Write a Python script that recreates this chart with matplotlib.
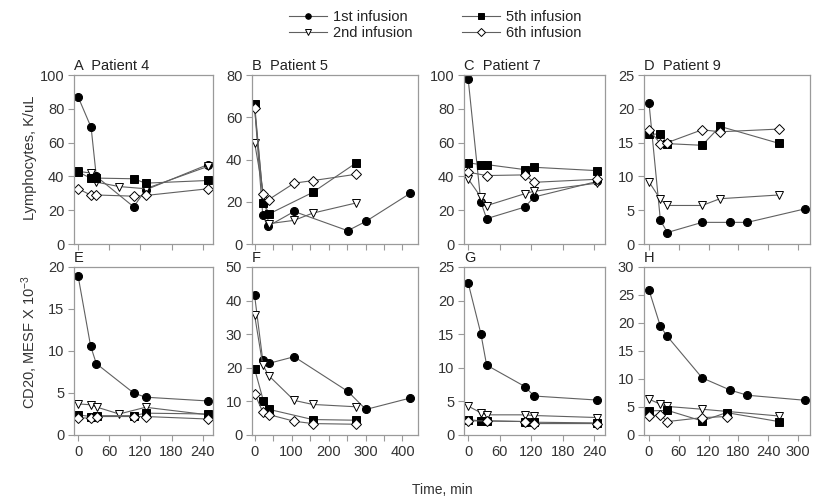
import matplotlib
matplotlib.use("Agg")
import matplotlib.pyplot as plt
from matplotlib.lines import Line2D

plt.rcParams['font.family'] = ['Liberation Sans', 'DejaVu Sans']
plt.rcParams['mathtext.default'] = 'regular'

series_names = ["1st infusion", "2nd infusion", "5th infusion", "6th infusion"]

# A - patient 4, lymphocytes
a1_t = [0, 25, 35, 107, 130, 250]
a1_v = [87, 69, 40, 22, 32, 47]
a2_t = [0, 24, 35, 79, 130, 251]
a2_v = [43, 42, 36.6, 34, 32.7, 46]
a5_t = [0, 24, 35, 107, 130, 251]
a5_v = [42.6, 39, 39, 38.6, 36, 37.6]
a6_t = [0, 24, 35, 107, 130, 251]
a6_v = [32.7, 29, 29, 28.3, 28.7, 32.7]

# B - patient 5, lymphocytes
b1_t = [0, 22, 35, 107, 252, 301, 421]
b1_v = [65, 13.9, 8.3, 15.4, 6.3, 10.7, 24]
b2_t = [0, 38, 107, 157, 274]
b2_v = [48, 9.6, 11.2, 14.6, 19.4]
b5_t = [0, 24, 40, 157, 274]
b5_v = [66.3, 19.4, 14.3, 24.4, 38.3]
b6_t = [0, 22, 38, 107, 157, 274]
b6_v = [64.3, 23.8, 21, 28.8, 30, 33]

# C - patient 7, lymphocytes
c1_t = [0, 24, 35, 108, 125, 245]
c1_v = [97.4, 24.9, 15, 21.9, 27.8, 37]
c2_t = [0, 24, 35, 108, 125, 245]
c2_v = [38.5, 27.8, 22.7, 29.8, 31.2, 36]
c5_t = [0, 24, 35, 108, 125, 245]
c5_v = [48, 47, 47, 44, 45.4, 43.4]
c6_t = [0, 35, 108, 125, 245]
c6_v = [42.5, 40.5, 40.9, 36.5, 38.3]

# D - patient 9, lymphocytes
d1_t = [0, 23, 37, 107, 164, 198, 314]
d1_v = [20.9, 3.5, 1.7, 3.2, 3.2, 3.2, 5.2]
d2_t = [0, 23, 37, 107, 143, 261]
d2_v = [9.2, 6.6, 5.7, 5.7, 6.7, 7.25]
d5_t = [0, 23, 37, 107, 143, 261]
d5_v = [16.2, 16.3, 14.85, 14.6, 17.4, 14.9]
d6_t = [0, 23, 37, 107, 143, 261]
d6_v = [16.9, 14.85, 15, 16.9, 16.6, 17.0]

# E - patient 4, CD20
e1_t = [0, 24, 35, 107, 130, 251]
e1_v = [18.9, 10.6, 8.5, 5.0, 4.5, 4.05]
e2_t = [0, 24, 37, 79, 130, 251]
e2_v = [3.7, 3.6, 3.3, 2.5, 3.3, 2.4]
e5_t = [0, 24, 37, 107, 130, 251]
e5_v = [2.4, 2.2, 2.3, 2.3, 2.6, 2.5]
e6_t = [0, 24, 37, 107, 130, 251]
e6_v = [2.06, 2.0, 2.2, 2.2, 2.2, 1.9]

# F - patient 5, CD20
f1_t = [0, 22, 38, 107, 252, 301, 421]
f1_v = [41.6, 22.3, 21.3, 23.3, 13, 7.6, 11]
f2_t = [0, 22, 38, 107, 157, 274]
f2_v = [35.7, 20.9, 17.7, 10.3, 9.1, 8.4]
f5_t = [0, 24, 40, 157, 274]
f5_v = [19.7, 10.1, 7.6, 4.6, 4.4]
f6_t = [0, 22, 38, 107, 157, 274]
f6_v = [12.3, 6.9, 6.1, 4.1, 3.4, 3.2]

# G - patient 7, CD20
g1_t = [0, 24, 35, 108, 125, 245]
g1_v = [22.6, 15.1, 10.4, 7.2, 5.8, 5.2]
g2_t = [0, 24, 35, 108, 125, 245]
g2_v = [4.3, 3.3, 3.0, 3.0, 2.9, 2.6]
g5_t = [0, 24, 35, 108, 125, 245]
g5_v = [2.3, 2.1, 2.1, 2.0, 1.9, 1.8]
g6_t = [0, 35, 108, 125, 245]
g6_v = [2.1, 2.1, 2.0, 1.7, 1.7]

# H - patient 9, CD20
h1_t = [0, 23, 37, 107, 164, 198, 314]
h1_v = [25.9, 19.4, 17.6, 10.2, 8.0, 7.1, 6.2]
h2_t = [0, 23, 37, 107, 261]
h2_v = [6.4, 5.5, 5.1, 4.6, 3.4]
h5_t = [0, 37, 107, 156, 261]
h5_v = [4.3, 4.4, 2.5, 4.0, 2.4]
h6_t = [0, 23, 37, 107, 156]
h6_v = [3.4, 3.6, 2.4, 3.1, 3.3]

styles = [
    dict(marker='o', mfc='black', ms=5.8),
    dict(marker='v', mfc='white', ms=6.2),
    dict(marker='s', mfc='black', ms=5.3),
    dict(marker='D', mfc='white', ms=5.0),
]

# pixel boxes (left, right) per column and (top, bottom) per row
cols = [(74, 213), (252, 418), (464, 605), (644, 810)]
rows = [(75, 244), (267, 435)]
W, H = 819, 504

short_x = dict(xlim=(-8, 260), xt=list(range(0, 241, 60)), xl=None)
long_x = dict(xlim=(-7, 442), xt=list(range(0, 401, 50)),
              xl=['0', '', '100', '', '200', '', '300', '', '400'])
wide_x = dict(xlim=(-10, 324), xt=list(range(0, 301, 60)), xl=None)

panels = [
    ("A  Patient 4", [(a1_t, a1_v), (a2_t, a2_v), (a5_t, a5_v), (a6_t, a6_v)], 100, 20, short_x),
    ("B  Patient 5", [(b1_t, b1_v), (b2_t, b2_v), (b5_t, b5_v), (b6_t, b6_v)], 80, 20, long_x),
    ("C  Patient 7", [(c1_t, c1_v), (c2_t, c2_v), (c5_t, c5_v), (c6_t, c6_v)], 100, 20, short_x),
    ("D  Patient 9", [(d1_t, d1_v), (d2_t, d2_v), (d5_t, d5_v), (d6_t, d6_v)], 25, 5, wide_x),
    ("E", [(e1_t, e1_v), (e2_t, e2_v), (e5_t, e5_v), (e6_t, e6_v)], 20, 5, short_x),
    ("F", [(f1_t, f1_v), (f2_t, f2_v), (f5_t, f5_v), (f6_t, f6_v)], 50, 10, long_x),
    ("G", [(g1_t, g1_v), (g2_t, g2_v), (g5_t, g5_v), (g6_t, g6_v)], 25, 5, short_x),
    ("H", [(h1_t, h1_v), (h2_t, h2_v), (h5_t, h5_v), (h6_t, h6_v)], 30, 5, wide_x),
]

fig = plt.figure(figsize=(W / 100, H / 100), dpi=100)
spine_c = '#9a9a9a'
line_c = '#606060'

for i, (title, data, ymax, ystep, xs) in enumerate(panels):
    x0, x1 = cols[i % 4]
    y0, y1 = rows[i // 4]
    ax = fig.add_axes([x0 / W, 1 - y1 / H, (x1 - x0) / W, (y1 - y0) / H])
    for (t, v), st in zip(data, styles):
        ax.plot(t, v, color=line_c, lw=0.8, mec='black', mew=0.7, **st)
    ax.set_xlim(*xs['xlim'])
    ax.set_ylim(0, ymax)
    ax.set_xticks(xs['xt'])
    if xs['xl'] is not None:
        ax.set_xticklabels(xs['xl'])
    ax.set_yticks(list(range(0, ymax + 1, ystep)))
    if i < 4:
        ax.set_xticklabels([])
    for sp in ax.spines.values():
        sp.set_color(spine_c)
        sp.set_linewidth(0.9)
    ax.tick_params(direction='out', length=4, width=0.8, color=spine_c,
                   labelsize=10.5, labelcolor='#333333', pad=3)
    ax.text(0.0, 1.012, title, transform=ax.transAxes, ha='left', va='bottom',
            fontsize=10.5, color='#222222')

fig.text(30 / W, 1 - 158 / H, "Lymphocytes, K/uL", rotation=90, ha='center',
         va='center', fontsize=10.5, color='#333333')
fig.text(30 / W, 1 - 342 / H, "CD20, MESF X 10$^{-3}$", rotation=90, ha='center',
         va='center', fontsize=10.5, color='#333333')
fig.text(442 / W, 1 - 490 / H, "Time, min", ha='center', va='center',
         fontsize=10, color='#333333')

handles = [Line2D([], [], color=line_c, lw=0.8, mec='black', mew=0.7,
                  marker=st['marker'], mfc=st['mfc'], ms=4) for st in styles]
fig.legend(handles, series_names, ncol=2, loc='upper center',
           bbox_to_anchor=(435 / W, 1.0), frameon=False, fontsize=10.5,
           handlelength=2.6, handletextpad=0.4, columnspacing=3.4,
           labelspacing=0.15, borderaxespad=0.3, labelcolor='#222222')

fig.savefig("out.png", dpi=100)
